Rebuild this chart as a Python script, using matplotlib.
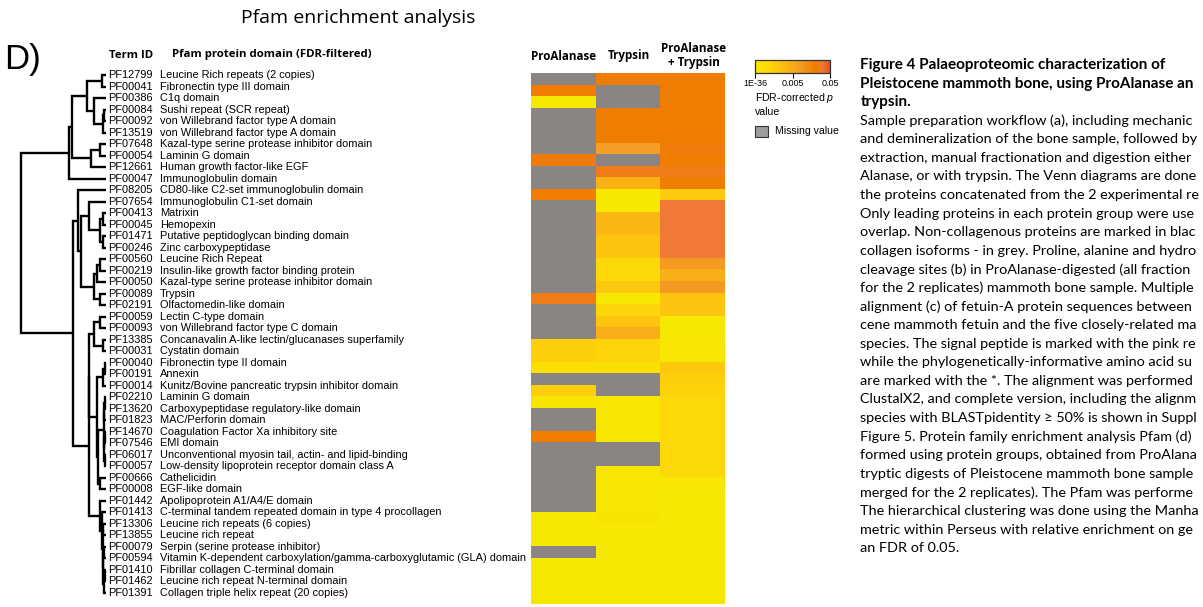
import numpy as np
import matplotlib
matplotlib.use("Agg")
import matplotlib.pyplot as plt
from matplotlib.colors import LinearSegmentedColormap, Normalize
from matplotlib.cm import ScalarMappable
from matplotlib.patches import Rectangle
from matplotlib.transforms import blended_transform_factory

plt.rcParams["mathtext.fontset"] = "custom"
plt.rcParams["mathtext.rm"] = "Liberation Sans"
plt.rcParams["mathtext.it"] = "Liberation Sans:italic"

# ---------------- data ----------------
term_ids = ["PF12799", "PF00041", "PF00386", "PF00084", "PF00092", "PF13519", "PF07648",
            "PF00054", "PF12661", "PF00047", "PF08205", "PF07654", "PF00413", "PF00045",
            "PF01471", "PF00246", "PF00560", "PF00219", "PF00050", "PF00089", "PF02191",
            "PF00059", "PF00093", "PF13385", "PF00031", "PF00040", "PF00191", "PF00014",
            "PF02210", "PF13620", "PF01823", "PF14670", "PF07546", "PF06017", "PF00057",
            "PF00666", "PF00008", "PF01442", "PF01413", "PF13306", "PF13855", "PF00079",
            "PF00594", "PF01410", "PF01462", "PF01391"]
domains = ["Leucine Rich repeats (2 copies)", "Fibronectin type III domain", "C1q domain",
           "Sushi repeat (SCR repeat)", "von Willebrand factor type A domain",
           "von Willebrand factor type A domain", "Kazal-type serine protease inhibitor domain",
           "Laminin G domain", "Human growth factor-like EGF", "Immunoglobulin domain",
           "CD80-like C2-set immunoglobulin domain", "Immunoglobulin C1-set domain", "Matrixin",
           "Hemopexin", "Putative peptidoglycan binding domain", "Zinc carboxypeptidase",
           "Leucine Rich Repeat", "Insulin-like growth factor binding protein",
           "Kazal-type serine protease inhibitor domain", "Trypsin", "Olfactomedin-like domain",
           "Lectin C-type domain", "von Willebrand factor type C domain",
           "Concanavalin A-like lectin/glucanases superfamily", "Cystatin domain",
           "Fibronectin type II domain", "Annexin",
           "Kunitz/Bovine pancreatic trypsin inhibitor domain", "Laminin G domain",
           "Carboxypeptidase regulatory-like domain", "MAC/Perforin domain",
           "Coagulation Factor Xa inhibitory site", "EMI domain",
           "Unconventional myosin tail, actin- and lipid-binding",
           "Low-density lipoprotein receptor domain class A", "Cathelicidin", "EGF-like domain",
           "Apolipoprotein A1/A4/E domain",
           "C-terminal tandem repeated domain in type 4 procollagen",
           "Leucine rich repeats (6 copies)", "Leucine rich repeat",
           "Serpin (serine protease inhibitor)",
           "Vitamin K-dependent carboxylation/gamma-carboxyglutamic (GLA) domain",
           "Fibrillar collagen C-terminal domain", "Leucine rich repeat N-terminal domain",
           "Collagen triple helix repeat (20 copies)"]
column_labels = ["ProAlanase", "Trypsin", "ProAlanase\n+ Trypsin"]
nan = np.nan
# colour level on the FDR scale: 0 = 1E-36 (yellow) ... 1 = 0.05 (red-orange); nan = missing
proalanase = [nan, .80, .00, nan, nan, nan, nan, .82, nan, nan,
              .80, nan, nan, nan, nan, nan, nan, nan, nan, .84,
              nan, nan, nan, .25, .25, .10, nan, .25, .05, nan,
              nan, .80, nan, nan, nan, nan, nan, nan, .00, .00,
              .00, nan, .00, .00, .00, .00]
trypsin = [.80, nan, nan, .80, .80, .80, .60, nan, .84, .45,
           .00, .00, .42, .42, .33, .33, .18, .18, .30, .00,
           .20, .33, .48, .22, .22, .10, nan, nan, .03, .02,
           .02, .02, nan, nan, .03, .03, .03, .03, .05, .00,
           .00, .00, .00, .00, .00, .00]
combined = [.80, .80, .80, .80, .80, .80, .82, .80, .84, .80,
            .28, .90, .90, .90, .90, .90, .62, .48, .62, .33,
            .33, .00, .00, .02, .02, .30, .25, .22, .18, .18,
            .18, .18, .18, .18, .18, .03, .00, .00, .00, .00,
            .00, .00, .00, .00, .00, .00]
cbar_ticks = [0.0, 0.5, 1.0]
cbar_ticklabels = ["1E-36", "0.005", "0.05"]

# hierarchical clustering tree: (merge distance, left, right); ints are row indices
cluster_a = (0.43, (0.40, (0.22, (0.05, 0, 1), (0.14, 2, (0.03, (0.02, 3, 4), 5))),
                    (0.18, (0.07, 6, 7), 8)), 9)
cluster_b_up = (0.33, 10, (0.30, (0.20, 11, (0.07, (0.03, 12, 13), (0.03, 14, 15))),
                           (0.14, (0.11, (0.07, 16, 17), 18), (0.07, 19, 20))))
cluster_b_low = (0.20,
                 (0.195, (0.14, (0.07, 21, 22), (0.035, 23, 24)),
                  (0.11, (0.03, (0.015, 25, 26), 27),
                   (0.09, (0.025, (0.02, (0.01, 28, 29), 30),
                           (0.02, (0.01, 31, 32), (0.01, 33, 34))), (0.07, 35, 36)))),
                 (0.07, 37, (0.05, 38, (0.04, (0.03, 39, 40),
                                       (0.03, (0.02, 41, 42), (0.02, (0.01, 43, 44), 45))))))
tree = (1.0, cluster_a, (0.39, cluster_b_up, cluster_b_low))

caption_bold = ["Figure 4 Palaeoproteomic characterization of",
                "Pleistocene mammoth bone, using ProAlanase an",
                "trypsin."]
caption_body = ["Sample preparation workflow (a), including mechanic",
                "and demineralization of the bone sample, followed by",
                "extraction, manual fractionation and digestion either",
                "Alanase, or with trypsin. The Venn diagrams are done",
                "the proteins concatenated from the 2 experimental re",
                "Only leading proteins in each protein group were use",
                "overlap. Non-collagenous proteins are marked in blac",
                "collagen isoforms - in grey. Proline, alanine and hydro",
                "cleavage sites (b) in ProAlanase-digested (all fraction",
                "for the 2 replicates) mammoth bone sample. Multiple",
                "alignment (c) of fetuin-A protein sequences between",
                "cene mammoth fetuin and the five closely-related ma",
                "species. The signal peptide is marked with the pink re",
                "while the phylogenetically-informative amino acid su",
                "are marked with the *. The alignment was performed",
                "ClustalX2, and complete version, including the alignm",
                "species with BLASTpidentity \u2265 50% is shown in Suppl",
                "Figure 5. Protein family enrichment analysis Pfam (d)",
                "formed using protein groups, obtained from ProAlana",
                "tryptic digests of Pleistocene mammoth bone sample",
                "merged for the 2 replicates). The Pfam was performe",
                "The hierarchical clustering was done using the Manha",
                "metric within Perseus with relative enrichment on ge",
                "an FDR of 0.05."]

# ---------------- figure ----------------
W, H = 1203, 607
fig = plt.figure(figsize=(W / 100, H / 100), dpi=100)


def box(x0, y0, x1, y1):
    """pixel box (top-left origin) -> figure rect"""
    return [x0 / W, 1 - y1 / H, (x1 - x0) / W, (y1 - y0) / H]


def fx(px):
    return px / W


def fy(py):
    return 1 - py / H


n = len(term_ids)
GRAY = "#8a8583"
cmap = LinearSegmentedColormap.from_list(
    "fdr", [(0.0, "#f6e800"), (0.18, "#fdd808"), (0.33, "#fcc40f"), (0.45, "#f9b214"),
            (0.6, "#f59d25"), (0.8, "#ef7d00"), (0.9, "#ef7a35"), (1.0, "#e4521f")])
cmap.set_bad(GRAY)

# heatmap
ax_h = fig.add_axes(box(531, 73.3, 724.5, 604))
mat = np.ma.masked_invalid(np.array([proalanase, trypsin, combined]).T)
ax_h.pcolormesh(np.arange(4), np.arange(n + 1), mat, cmap=cmap, vmin=0, vmax=1,
                shading="flat")
ax_h.set_xlim(0, 3)
ax_h.set_ylim(n, 0)
ax_h.axis("off")

# dendrogram + labels
ax_t = fig.add_axes(box(21, 75 - 5.755, 106, 593 + 5.755))
ax_t.set_xlim(1.0, 0.0)
ax_t.set_ylim(n - 0.5, -0.5)
ax_t.axis("off")


def draw(node):
    if isinstance(node, int):
        return float(node), 0.0
    h, left, right = node
    yl, hl = draw(left)
    yr, hr = draw(right)
    ax_t.plot([hl, h, h, hr], [yl, yl, yr, yr], color="black", lw=1.7,
              solid_joinstyle="miter", solid_capstyle="butt", clip_on=False)
    return (yl + yr) / 2, h


draw(tree)

trans = blended_transform_factory(fig.transFigure, ax_t.transData)
for i, (tid, dom) in enumerate(zip(term_ids, domains)):
    ax_t.text(fx(108.5), i, tid, transform=trans, ha="left", va="center",
              family="Liberation Sans", fontsize=7.9, clip_on=False)
    ax_t.text(fx(160), i, dom, transform=trans, ha="left", va="center",
              family="Liberation Sans", fontsize=7.9, clip_on=False)

# headers
hdr = dict(family="Open Sans", fontweight="bold", fontsize=8.2, ha="left", va="center")
fig.text(fx(109), fy(55), "Term ID", **hdr)
fig.text(fx(172), fy(55), "Pfam protein domain (FDR-filtered)", **hdr)
col_centres = [563.5, 628.5, 693.5]
for c, lab in zip(col_centres, column_labels):
    fig.text(fx(c), fy(56 if "\n" not in lab else 55.5), lab, family="Open Sans",
             fontweight="bold", fontsize=8.4, ha="center", va="center",
             linespacing=1.05)

fig.text(fx(358), fy(18), "Pfam enrichment analysis", family="Open Sans", fontsize=14,
         ha="center", va="center")
fig.text(fx(4), fy(59), "D)", family="Liberation Sans", fontsize=25, ha="left",
         va="center")

# colour bar legend
cax = fig.add_axes(box(755, 60, 830, 73))
cb = fig.colorbar(ScalarMappable(norm=Normalize(0, 1), cmap=cmap), cax=cax,
                  orientation="horizontal", ticks=cbar_ticks)
cb.ax.set_xticklabels(cbar_ticklabels, family="Liberation Sans", fontsize=6.5)
cb.ax.tick_params(length=3.5, width=0.8, pad=1)
cb.outline.set_linewidth(0.9)
cb.outline.set_edgecolor("#333333")
fig.text(fx(755), fy(98), "FDR-corrected $\\it{p}$", family="Liberation Sans",
         fontsize=7.6, ha="left", va="center")
fig.text(fx(755), fy(112), "value", family="Liberation Sans", fontsize=7.6, ha="left",
         va="center")
fig.patches.append(Rectangle((fx(755), fy(137)), 13 / W, 11 / H, transform=fig.transFigure,
                             facecolor="#9d9d9d", edgecolor="#333333", lw=0.8))
fig.text(fx(775), fy(131.5), "Missing value", family="Liberation Sans", fontsize=7.6,
         ha="left", va="center")

# caption
y0, dy = 65, 18.58
for k, line in enumerate(caption_bold + caption_body):
    bold = k < len(caption_bold)
    fig.text(fx(860.5), fy(y0 + k * dy), line, family="Lato",
             fontweight="bold" if bold else "normal", fontsize=11.0 if bold else 10.4,
             ha="left", va="center")

fig.savefig("out.png", dpi=100)
